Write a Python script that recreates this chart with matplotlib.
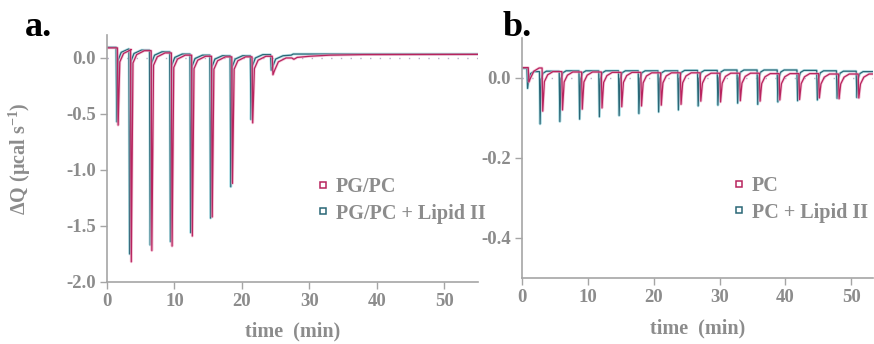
import matplotlib.pyplot as plt
from matplotlib.lines import Line2D

plt.rcParams['font.family'] = ['Liberation Serif', 'DejaVu Serif']
plt.rcParams['font.weight'] = 'bold'
plt.rcParams['mathtext.fontset'] = 'custom'
plt.rcParams['mathtext.rm'] = 'Liberation Serif:bold'
plt.rcParams['mathtext.it'] = 'Liberation Serif:bold'
plt.rcParams['mathtext.bf'] = 'Liberation Serif:bold'

GREY = '#8c8c8c'
AXC = '#a5a5a5'
MAG, MAG_L = '#b8245e', '#eea3c1'
TEAL, TEAL_L = '#2a6776', '#92d3dc'

# ---- panel a : PG/PC vesicles ----
a_start = {'mag': 0.09, 'teal': 0.095}
a_teal_dips = [1.4, 3.3, 6.35, 9.35, 12.35, 15.3, 18.3, 21.3, 24.3]
a_teal_min = [-0.57, -1.75, -1.67, -1.64, -1.56, -1.43, -1.15, -0.55, -0.11]
a_teal_level = [0.08, 0.07, 0.055, 0.035, 0.025, 0.02, 0.02, 0.03, 0.02]
a_teal_tail_t = [27.3, 27.6, 30.0, 55.0]
a_teal_tail_y = [0.025, 0.035, 0.035, 0.035]

a_mag_dips = [1.6, 3.55, 6.6, 9.6, 12.6, 15.55, 18.55, 21.55, 24.55]
a_mag_min = [-0.60, -1.82, -1.72, -1.68, -1.59, -1.42, -1.12, -0.58, -0.15]
a_mag_level = [0.075, 0.065, 0.045, 0.025, 0.015, 0.01, 0.01, 0.015, 0.0]
a_mag_tail_t = [27.4, 27.7, 28.2, 30.0, 33.0, 38.0, 55.0]
a_mag_tail_y = [0.0, -0.012, 0.005, 0.015, 0.025, 0.03, 0.032]

# ---- panel b : PC vesicles ----
b_start = {'mag': 0.026, 'teal': 0.024}
b_teal_dips = [0.8, 2.7, 5.7, 8.7, 11.7, 14.7, 17.7, 20.7, 23.7, 26.7, 29.7,
               32.7, 35.75, 38.8, 41.8, 44.8, 47.8, 50.8]
b_teal_min = [-0.026, -0.115, -0.109, -0.103, -0.097, -0.094, -0.089, -0.085,
              -0.080, -0.070, -0.068, -0.063, -0.066, -0.060, -0.057, -0.055,
              -0.051, -0.049]
b_teal_level = [0.016, 0.017, 0.018, 0.018, 0.018, 0.018, 0.018, 0.018, 0.019,
                0.019, 0.02, 0.02, 0.02, 0.02, 0.019, 0.018, 0.017, 0.016]
b_mag_dips = [1.0, 3.1, 6.1, 9.1, 12.1, 15.1, 18.1, 21.1, 24.1, 27.1, 30.1,
              33.1, 36.1, 39.1, 42.1, 45.1, 48.1, 51.1]
b_mag_min = [-0.01, -0.083, -0.080, -0.078, -0.075, -0.072, -0.070, -0.068,
             -0.066, -0.058, -0.060, -0.057, -0.058, -0.055, -0.054, -0.050,
             -0.052, -0.050]
b_mag_level = [0.025, 0.016, 0.015, 0.015, 0.014, 0.014, 0.013, 0.013, 0.013,
               0.012, 0.012, 0.012, 0.011, 0.011, 0.011, 0.01, 0.01, 0.01]
b_end = 53.3

labels_a = ['PG/PC', 'PG/PC + Lipid II']
labels_b = ['PC', 'PC + Lipid II']


def trace(start, dips, mins, levels, shape, tail_t, tail_y):
    # join the read values: plateau -> injection minimum -> back to plateau
    r1, k1, r2, k2, settle = shape
    t, y = [0.0], [start]
    prev = start
    for td, m, lv in zip(dips, mins, levels):
        t += [td - 0.05, td + 0.05, td + r1, td + r2, td + settle]
        y += [prev, m, lv - k1, lv - k2, lv]
        prev = lv
    return t + tail_t, y + tail_y


def draw(ax, t, y, c, cl):
    ax.plot(t, y, color=cl, lw=2.0, alpha=0.6, solid_joinstyle='round')
    ax.plot(t, y, color=c, lw=0.9, solid_joinstyle='round')


fig = plt.figure(figsize=(8.74, 3.44), dpi=100)
ax_a = fig.add_axes([107/874, 1-282/344, 371/874, 247/344])
ax_b = fig.add_axes([522/874, 1-278/344, 351/874, 240/344])

sa_t = (0.25, 0.1, 0.7, 0.03, 1.8)
sa_m = (0.3, 0.11, 0.85, 0.035, 2.0)
t, y = trace(a_start['teal'], a_teal_dips, a_teal_min, a_teal_level, sa_t,
             a_teal_tail_t, a_teal_tail_y)
draw(ax_a, t, y, TEAL, TEAL_L)
t, y = trace(a_start['mag'], a_mag_dips, a_mag_min, a_mag_level, sa_m,
             a_mag_tail_t, a_mag_tail_y)
draw(ax_a, t, y, MAG, MAG_L)

sb_t = (0.2, 0.02, 0.5, 0.005, 1.0)
sb_m = (0.3, 0.025, 0.8, 0.008, 1.6)
t, y = trace(b_start['teal'], b_teal_dips, b_teal_min, b_teal_level, sb_t,
             [b_end], [b_teal_level[-1]])
draw(ax_b, t, y, TEAL, TEAL_L)
t, y = trace(b_start['mag'], b_mag_dips, b_mag_min, b_mag_level, sb_m,
             [b_end], [b_mag_level[-1]])
draw(ax_b, t, y, MAG, MAG_L)

ax_a.set_xlim(0, 55)
ax_a.set_ylim(-2.0, 0.205)
ax_a.set_yticks([0.0, -0.5, -1.0, -1.5, -2.0])
ax_a.set_yticklabels(['0.0', '-0.5', '-1.0', '-1.5', '-2.0'])
ax_b.set_xlim(0, b_end)
ax_b.set_ylim(-0.5, 0.1)
ax_b.set_yticks([0.0, -0.2, -0.4])
ax_b.set_yticklabels(['0.0', '-0.2', '-0.4'])

for ax in (ax_a, ax_b):
    ax.axhline(0, color='#b9aec9', lw=1, ls=(0, (1, 6)), zorder=0)
    ax.set_xticks([0, 10, 20, 30, 40, 50])
    for s in ('top', 'right'):
        ax.spines[s].set_visible(False)
    for s in ('left', 'bottom'):
        ax.spines[s].set_color(AXC)
        ax.spines[s].set_linewidth(1.2)
    ax.tick_params(direction='out', length=5, width=1, color=AXC,
                   labelcolor=GREY, labelsize=13.5, pad=3)
    ax.set_xlabel('time  (min)', fontsize=14.5, color=GREY, fontweight='bold',
                  va='center')
    ax.set_facecolor('none')

ax_a.xaxis.set_label_coords(0.5, -0.2)
ax_b.xaxis.set_label_coords(0.5, -0.21)
ax_a.set_ylabel(r'$\Delta$Q ($\mu$cal s$^{-1}$)', fontsize=14.5, color=GREY,
                fontweight='bold')
ax_a.yaxis.set_label_coords(-0.2, 0.5)


def legend(ax, labels, anchor):
    h = [Line2D([], [], ls='none', marker='s', ms=4.5, mfc='white',
                mec=c, mew=1.1) for c in (MAG, TEAL)]
    lg = ax.legend(h, labels, loc='center left', bbox_to_anchor=anchor,
                   frameon=False, handlelength=0.6, handletextpad=0.35,
                   labelspacing=0.3, borderpad=0, borderaxespad=0,
                   prop={'family': 'Liberation Serif', 'weight': 'bold',
                         'size': 14.5})
    for tx in lg.get_texts():
        tx.set_color(GREY)


legend(ax_a, labels_a, (0.565, 0.33))
legend(ax_b, labels_b, (0.6, 0.327))

fig.text(25/874, 1-27/344, 'a.', fontsize=26, fontweight='bold', va='center')
fig.text(503/874, 1-27/344, 'b.', fontsize=26, fontweight='bold', va='center')

fig.savefig('out.png', dpi=100)
